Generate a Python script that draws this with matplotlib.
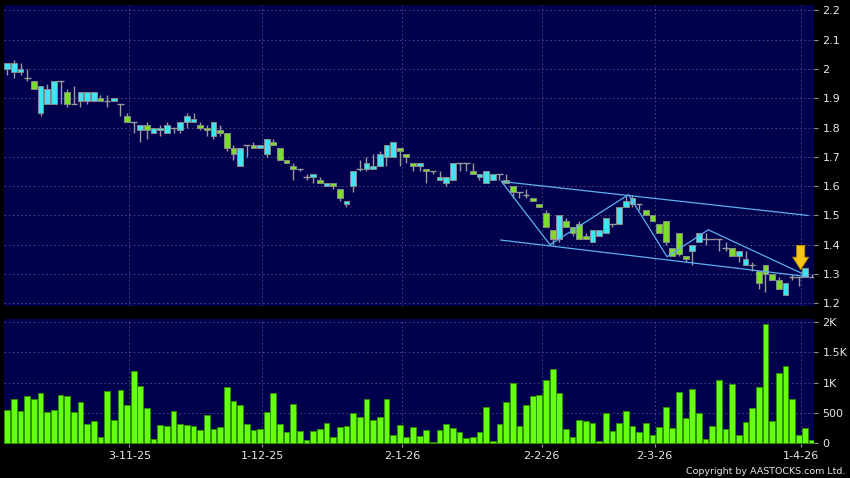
import numpy as np
import matplotlib
matplotlib.use("Agg")
import matplotlib.pyplot as plt

# daily bars, index 0 .. 121 (trading days)
opens = [2.00, 1.99, 1.99, 1.97, 1.96, 1.85, 1.88, 1.88, 1.96, 1.92,
         1.88, 1.89, 1.89, 1.89, 1.90, 1.89, 1.89, 1.88, 1.84, 1.82,
         1.79, 1.81, 1.78, 1.79, 1.78, 1.80, 1.79, 1.82, 1.82, 1.81,
         1.80, 1.77, 1.79, 1.78, 1.73, 1.67, 1.74, 1.74, 1.73, 1.71,
         1.75, 1.73, 1.69, 1.67, 1.66, 1.63, 1.63, 1.62, 1.60, 1.61,
         1.59, 1.54, 1.60, 1.66, 1.66, 1.66, 1.67, 1.70, 1.70, 1.73,
         1.71, 1.68, 1.67, 1.66, 1.65, 1.62, 1.61, 1.62, 1.68, 1.68,
         1.65, 1.63, 1.61, 1.62, 1.64, 1.62, 1.60, 1.58, 1.57, 1.56,
         1.54, 1.51, 1.45, 1.42, 1.48, 1.46, 1.47, 1.43, 1.41, 1.43,
         1.44, 1.47, 1.47, 1.53, 1.54, 1.54, 1.52, 1.50, 1.47, 1.48,
         1.39, 1.44, 1.36, 1.38, 1.41, 1.42, 1.42, 1.42, 1.39, 1.39,
         1.36, 1.33, 1.33, 1.31, 1.33, 1.30, 1.28, 1.23, 1.29, 1.29,
         1.29, 1.29]
highs = [2.02, 2.03, 2.02, 2.00, 1.96, 1.94, 1.95, 1.96, 1.96, 1.93,
         1.94, 1.92, 1.92, 1.92, 1.91, 1.91, 1.90, 1.88, 1.85, 1.82,
         1.81, 1.82, 1.80, 1.81, 1.82, 1.80, 1.82, 1.85, 1.85, 1.82,
         1.81, 1.82, 1.81, 1.78, 1.74, 1.73, 1.74, 1.75, 1.74, 1.76,
         1.76, 1.73, 1.69, 1.68, 1.66, 1.64, 1.64, 1.63, 1.61, 1.61,
         1.59, 1.55, 1.65, 1.69, 1.70, 1.71, 1.72, 1.74, 1.75, 1.73,
         1.71, 1.68, 1.68, 1.66, 1.65, 1.65, 1.63, 1.68, 1.68, 1.68,
         1.68, 1.64, 1.65, 1.64, 1.64, 1.64, 1.60, 1.58, 1.59, 1.56,
         1.54, 1.52, 1.45, 1.50, 1.49, 1.46, 1.48, 1.44, 1.45, 1.45,
         1.49, 1.47, 1.53, 1.57, 1.57, 1.54, 1.52, 1.50, 1.47, 1.48,
         1.39, 1.44, 1.36, 1.40, 1.44, 1.44, 1.42, 1.42, 1.41, 1.39,
         1.38, 1.38, 1.34, 1.31, 1.33, 1.30, 1.29, 1.27, 1.30, 1.29,
         1.32, 1.30]
lows = [1.98, 1.97, 1.98, 1.96, 1.93, 1.84, 1.88, 1.88, 1.88, 1.87,
        1.88, 1.87, 1.88, 1.89, 1.89, 1.87, 1.89, 1.84, 1.82, 1.78,
        1.75, 1.76, 1.78, 1.77, 1.78, 1.78, 1.78, 1.80, 1.82, 1.79,
        1.77, 1.76, 1.77, 1.72, 1.69, 1.67, 1.70, 1.73, 1.73, 1.70,
        1.74, 1.69, 1.68, 1.62, 1.65, 1.62, 1.61, 1.61, 1.60, 1.59,
        1.55, 1.53, 1.58, 1.65, 1.65, 1.66, 1.67, 1.67, 1.70, 1.67,
        1.68, 1.65, 1.65, 1.61, 1.64, 1.62, 1.60, 1.62, 1.65, 1.65,
        1.64, 1.62, 1.61, 1.62, 1.62, 1.61, 1.56, 1.56, 1.56, 1.55,
        1.53, 1.46, 1.40, 1.41, 1.46, 1.43, 1.42, 1.42, 1.41, 1.43,
        1.44, 1.46, 1.47, 1.53, 1.53, 1.52, 1.50, 1.48, 1.44, 1.40,
        1.36, 1.36, 1.34, 1.33, 1.41, 1.40, 1.42, 1.38, 1.38, 1.36,
        1.34, 1.33, 1.31, 1.25, 1.24, 1.28, 1.25, 1.23, 1.28, 1.26,
        1.29, 1.29]
closes = [2.02, 2.02, 2.00, 1.97, 1.93, 1.94, 1.93, 1.96, 1.96, 1.88,
          1.88, 1.92, 1.92, 1.92, 1.89, 1.89, 1.90, 1.88, 1.82, 1.82,
          1.81, 1.79, 1.80, 1.80, 1.81, 1.80, 1.82, 1.84, 1.83, 1.80,
          1.79, 1.82, 1.78, 1.73, 1.71, 1.73, 1.74, 1.73, 1.74, 1.76,
          1.74, 1.69, 1.68, 1.66, 1.66, 1.63, 1.64, 1.61, 1.61, 1.60,
          1.56, 1.55, 1.65, 1.66, 1.68, 1.67, 1.71, 1.74, 1.75, 1.72,
          1.70, 1.67, 1.68, 1.65, 1.65, 1.63, 1.63, 1.68, 1.68, 1.68,
          1.64, 1.64, 1.65, 1.64, 1.64, 1.61, 1.58, 1.58, 1.57, 1.55,
          1.53, 1.46, 1.42, 1.50, 1.46, 1.44, 1.42, 1.42, 1.45, 1.45,
          1.49, 1.47, 1.53, 1.55, 1.56, 1.54, 1.50, 1.48, 1.44, 1.41,
          1.36, 1.37, 1.35, 1.40, 1.44, 1.42, 1.42, 1.42, 1.39, 1.36,
          1.38, 1.35, 1.33, 1.27, 1.30, 1.28, 1.25, 1.27, 1.29, 1.29,
          1.32, 1.29]
volumes = [539, 722, 522, 783, 722, 822, 511, 539, 794, 783,
           517, 678, 317, 367, 94, 861, 378, 878, 628, 1200,
           939, 578, 67, 300, 283, 533, 311, 294, 283, 211,
           461, 239, 267, 933, 689, 622, 317, 217, 239, 506,
           822, 322, 189, 650, 194, 50, 206, 239, 339, 106,
           272, 283, 494, 428, 733, 383, 433, 728, 133, 300,
           100, 267, 122, 211, 22, 222, 322, 256, 189, 78,
           106, 178, 594, 33, 311, 672, 1000, 289, 622, 778,
           789, 1044, 1222, 828, 239, 106, 389, 372, 333, 33,
           494, 194, 328, 533, 283, 183, 339, 133, 267, 589,
           250, 850, 417, 900, 494, 72, 289, 1039, 239, 983,
           139, 344, 583, 922, 1967, 361, 1167, 1272, 733, 139,
           244, 44]

date_idx = [18, 38, 59, 80, 97, 119]
date_labels = ["3-11-25", "1-12-25", "2-1-26", "2-2-26", "2-3-26", "1-4-26"]

price_ticks = [1.2, 1.3, 1.4, 1.5, 1.6, 1.7, 1.8, 1.9, 2.0, 2.1, 2.2]
price_labels = ["1.2", "1.3", "1.4", "1.5", "1.6", "1.7", "1.8", "1.9", "2", "2.1", "2.2"]
vol_ticks = [0, 500, 1000, 1500, 2000]
vol_labels = ["0", "500", "1K", "1.5K", "2K"]

# hand drawn channel / zigzag
upper_x = [74.3, 120.4]
upper_y = [1.616, 1.500]
lower_x = [74.2, 120.4]
lower_y = [1.416, 1.291]
zig_x = [74.3, 81.6, 93.4, 99.2, 105.4, 119.5]
zig_y = [1.616, 1.400, 1.571, 1.359, 1.451, 1.302]
arrow_x = 119.3
arrow_top, arrow_tip = 1.398, 1.315

BG = "#00004d"
GRID = "#51518a"
TXT = "#e6e6e6"
UP = "#3ee4f4"
DOWN = "#7cdc2c"
WICK = "#9a9a9a"

n = len(closes)
x = np.arange(n)

fig = plt.figure(figsize=(8.5, 4.78), dpi=100, facecolor="black")
ax1 = fig.add_axes([4 / 850, 1 - 306 / 478, 810 / 850, 301 / 478])
ax2 = fig.add_axes([4 / 850, 1 - 444 / 478, 810 / 850, 125 / 478])

grid_x = [d + 0.35 for d in date_idx]

for ax in (ax1, ax2):
    ax.set_facecolor(BG)
    for s in ax.spines.values():
        s.set_visible(False)
    ax.set_xlim(-0.5, 121.3)
    for gx in grid_x:
        ax.axvline(gx, color=GRID, lw=0.6, ls=(0, (2, 3)), zorder=0)
    ax.yaxis.tick_right()
    ax.tick_params(axis="y", colors=WICK, labelcolor=TXT, labelsize=8,
                   length=3, pad=3)

# price panel
ax1.set_ylim(1.191, 2.218)
for p in price_ticks:
    ax1.axhline(p, color=GRID, lw=0.6, ls=(0, (2, 3)), zorder=0)
ax1.set_yticks(price_ticks)
ax1.set_yticklabels(price_labels)
ax1.set_xticks([])

for i in range(n):
    o, h, l, c = opens[i], highs[i], lows[i], closes[i]
    ax1.vlines(x[i], l, h, color=WICK, lw=1, zorder=2)
    if o == c:
        ax1.hlines(o, x[i] - 0.5, x[i] + 0.5, color=WICK, lw=1, zorder=2)
    else:
        col = UP if c > o else DOWN
        ax1.bar(x[i], abs(c - o), bottom=min(o, c), width=0.86, color=col,
                edgecolor="#8a8a8a", linewidth=0.7, zorder=3)

ax1.plot(upper_x, upper_y, color="#5cb0ee", lw=0.9, zorder=4)
ax1.plot(lower_x, lower_y, color="#5cb0ee", lw=0.9, zorder=4)
ax1.plot(zig_x, zig_y, color="#5cb0ee", lw=0.9, zorder=4)

ax1.annotate("", xy=(arrow_x, arrow_tip), xytext=(arrow_x, arrow_top),
             arrowprops=dict(arrowstyle="simple,head_width=1.15,head_length=0.9,tail_width=0.58",
                             fc="#f7c613", ec="#b88a00", lw=0.6,
                             shrinkA=0, shrinkB=0, mutation_scale=10),
             zorder=5)

# volume panel
ax2.set_ylim(-17, 2055)
for v in vol_ticks[1:]:
    ax2.axhline(v, color=GRID, lw=0.6, ls=(0, (2, 3)), zorder=0)
ax2.bar(x, volumes, width=0.86, color="#66ff11", edgecolor="#2f8f00",
        linewidth=0.7, zorder=2)
ax2.set_yticks(vol_ticks)
ax2.set_yticklabels(vol_labels)
ax2.set_xticks(grid_x)
ax2.set_xticklabels(date_labels)
ax2.tick_params(axis="x", colors=WICK, labelcolor=TXT, labelsize=8,
                length=2, pad=3)

fig.text(0.994, 0.004, "Copyright by AASTOCKS.com Ltd.", color=TXT,
         fontsize=6.8, ha="right", va="bottom")

fig.savefig("out.png", dpi=100, facecolor="black")
